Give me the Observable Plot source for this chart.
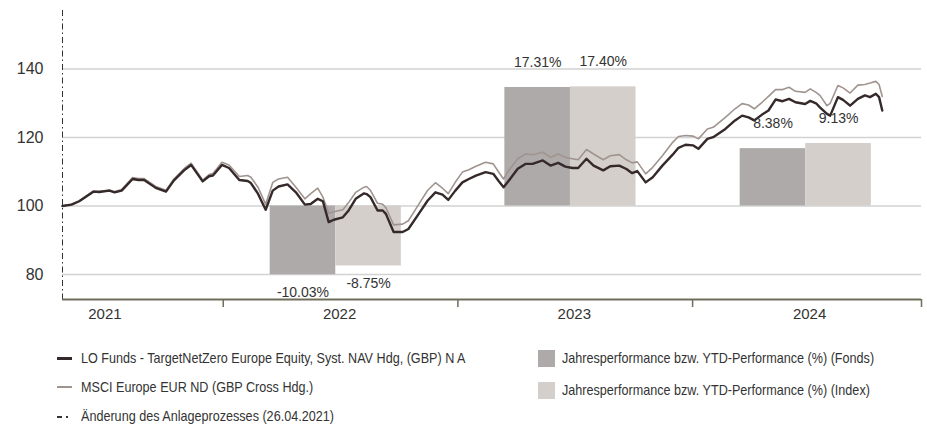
<!DOCTYPE html>
<html>
<head>
<meta charset="utf-8">
<script src="https://cdn.jsdelivr.net/npm/d3@7"></script>
<script src="https://cdn.jsdelivr.net/npm/@observablehq/plot@0.6"></script>
<style>
  html, body { margin: 0; padding: 0; background: #fff; }
  #wrap { position: relative; width: 927px; height: 437px; overflow: hidden; }
  .leg { position: absolute; font-family: "Liberation Sans", Arial, sans-serif; font-size: 15px; color: #333; white-space: nowrap; line-height: 1; transform: scaleX(0.84); transform-origin: 0 50%; }
  .sw { position: absolute; }
</style>
</head>
<body>
<div id="wrap"><div id="chart"></div></div>
<script>
// ---- Data ----
const dates = [
"2021-04-26","2021-05-10","2021-05-22","2021-06-13","2021-06-22","2021-07-08","2021-07-16","2021-07-27",
"2021-08-13","2021-08-22","2021-08-31","2021-09-18","2021-10-04","2021-10-16","2021-11-01","2021-11-12",
"2021-11-30","2021-12-10","2021-12-16","2021-12-30","2022-01-10","2022-01-26","2022-02-08","2022-02-13",
"2022-02-24","2022-03-08","2022-03-19","2022-03-28","2022-04-11","2022-04-24","2022-05-08","2022-05-17",
"2022-05-28","2022-06-05","2022-06-14","2022-06-22","2022-07-06","2022-07-15","2022-07-26","2022-08-08",
"2022-08-12","2022-08-18","2022-08-29","2022-09-06","2022-09-11","2022-09-23","2022-10-07","2022-10-16",
"2022-11-01","2022-11-15","2022-11-27","2022-12-08","2022-12-17","2022-12-28","2023-01-08","2023-01-18",
"2023-01-29","2023-02-13","2023-02-25","2023-03-05","2023-03-13","2023-03-21","2023-04-04","2023-04-16",
"2023-04-27","2023-05-13","2023-05-25","2023-06-06","2023-06-17","2023-06-28","2023-07-07","2023-07-20",
"2023-07-31","2023-08-15","2023-08-26","2023-09-09","2023-09-20","2023-09-29","2023-10-07","2023-10-20",
"2023-10-31","2023-11-15","2023-12-01","2023-12-10","2023-12-21","2024-01-02","2024-01-10","2024-01-24",
"2024-02-02","2024-02-21","2024-03-07","2024-03-18","2024-03-28","2024-04-06","2024-04-18","2024-04-28",
"2024-05-09","2024-05-20","2024-05-30","2024-06-09","2024-06-24","2024-07-02","2024-07-11","2024-07-17",
"2024-07-28","2024-08-02","2024-08-14","2024-08-22","2024-09-02","2024-09-14","2024-09-25","2024-10-03",
"2024-10-12","2024-10-17","2024-10-22"];

const fund = [
100.0,100.4,101.4,104.2,104.1,104.5,104.0,104.5,
107.9,107.6,107.6,105.3,104.2,107.4,110.4,112.0,
107.2,108.7,108.9,112.0,111.1,107.6,107.3,106.7,
103.6,98.9,104.5,105.7,106.3,104.0,100.4,100.6,
102.1,101.4,95.3,96.0,96.7,98.7,102.1,103.7,
103.5,102.6,98.7,98.7,97.7,92.4,92.4,93.3,
97.7,101.6,104.0,103.3,101.8,104.5,106.9,107.9,
108.9,109.9,109.4,107.4,105.5,107.4,110.9,112.3,
112.3,113.3,111.8,112.6,111.5,111.1,111.1,113.8,
111.8,110.4,111.6,111.8,110.8,109.6,110.2,106.9,
108.4,111.8,115.0,117.0,117.9,117.7,116.7,119.6,
120.1,122.5,125.0,126.4,125.9,125.0,126.7,127.9,
131.1,130.6,131.3,130.3,129.8,130.7,130.0,128.8,
126.9,126.4,131.8,131.0,129.3,131.3,132.3,131.8,
132.8,131.8,127.9];

const index = [
100.0,100.5,101.5,104.4,104.3,104.7,104.2,104.8,
108.3,108.0,108.0,105.7,104.6,107.8,110.9,112.5,
107.6,109.2,109.5,112.8,112.0,108.6,108.9,108.4,
105.5,100.5,106.9,107.9,108.4,105.5,102.1,103.6,
105.2,102.6,97.9,98.3,98.9,101.0,104.0,105.5,
105.7,104.6,100.8,100.5,99.5,94.5,94.7,95.7,
100.5,104.6,106.8,105.2,103.6,107.0,109.9,110.6,
111.6,112.8,112.3,110.0,107.9,110.4,113.8,115.2,
115.0,115.7,114.2,115.2,114.2,113.8,113.5,116.5,
115.2,113.5,114.7,115.0,113.5,112.6,112.9,109.4,
111.3,114.7,118.6,120.3,120.6,120.4,119.6,122.5,
123.0,125.9,128.4,129.9,129.5,128.4,130.3,132.0,
134.0,134.0,134.7,133.5,133.2,134.2,133.2,132.3,
129.3,130.0,135.2,134.5,133.0,135.3,135.5,135.9,
136.4,135.5,132.0];

const barYears = [2022, 2023, 2024];
const fundPerf = [-10.03, 17.31, 8.38];
const indexPerf = [-8.75, 17.40, 9.13];

const yTicks = [80, 100, 120, 140];
const axisYears = [2021, 2022, 2023, 2024];
const processChange = "2021-04-26";

const fundName = "LO Funds - TargetNetZero Europe Equity, Syst. NAV Hdg, (GBP) N A";
const indexName = "MSCI Europe EUR ND (GBP Cross Hdg.)";
const barFundName = "Jahresperformance bzw. YTD-Performance (%) (Fonds)";
const barIndexName = "Jahresperformance bzw. YTD-Performance (%) (Index)";
const changeName = "Änderung des Anlageprozesses (26.04.2021)";

// ---- Styles ----
const C_FUND = "#35292a", C_INDEX = "#a0948f";
const C_BARF = "#aeaaa9", C_BARI = "#d4cfcb";
const C_GRID = "#d2d2d2", C_AXIS = "#6e6e5a", C_TEXT = "#333333";

const parse = d3.utcParse("%Y-%m-%d");
const series = dates.map((d, i) => ({date: parse(d), fund: fund[i], index: index[i]}));

const xDomain = [parse("2021-04-26"), parse("2024-12-22")];
const yDomain = [72.7, 157.1];
const BAR_SCALE = 2;      // 1 % = 2 index points
const HALF = 102;          // bar width in days

const bars = [];
barYears.forEach((y, i) => {
  const c = Date.UTC(y, 5, 25);
  bars.push({kind: "f", pct: fundPerf[i], x1: new Date(c - HALF * 864e5), x2: new Date(c)});
  bars.push({kind: "i", pct: indexPerf[i], x1: new Date(c), x2: new Date(c + HALF * 864e5)});
});
bars.forEach(b => { b.xm = new Date((+b.x1 + +b.x2) / 2); b.top = 100 + BAR_SCALE * b.pct; });

const chart = Plot.plot({
  width: 927,
  height: 330,
  marginLeft: 62,
  marginRight: 6,
  marginTop: 10,
  marginBottom: 31,
  style: {fontFamily: "'Liberation Sans', Arial, sans-serif", fontSize: "15px", color: C_TEXT, background: "#fff"},
  x: {type: "utc", domain: xDomain},
  y: {domain: yDomain},
  marks: [
    Plot.ruleY(yTicks, {stroke: C_GRID, strokeWidth: 1.5}),
    Plot.rectY(bars, {x1: "x1", x2: "x2", y1: 100, y2: "top", fill: d => d.kind === "f" ? C_BARF : C_BARI}),
    Plot.line(series, {x: "date", y: "index", stroke: C_INDEX, strokeWidth: 1.6}),
    Plot.line(series, {x: "date", y: "fund", stroke: C_FUND, strokeWidth: 2.4}),
    Plot.text(bars, {x: "xm", y: "top", text: d => d.pct.toFixed(2) + "%",
      fill: C_TEXT, fontSize: 14, lineAnchor: "middle",
      filter: d => d.pct >= 0, dy: -25}),
    Plot.text(bars, {x: "xm", y: "top", text: d => d.pct.toFixed(2) + "%",
      fill: C_TEXT, fontSize: 14, lineAnchor: "middle",
      filter: d => d.pct < 0, dy: 18}),
    Plot.ruleX([parse(processChange)], {stroke: "#333", strokeWidth: 1, strokeDasharray: "6,3,1.5,3"}),
    Plot.ruleY([yDomain[0]], {stroke: C_AXIS, strokeWidth: 2}),
    Plot.axisY({ticks: yTicks, tickSize: 0, tickPadding: 19, fontSize: 16, fill: C_TEXT, label: null}),
    Plot.axisX({ticks: [...axisYears.slice(1).map(y => new Date(Date.UTC(y, 0, 1))), xDomain[1]],
      tickSize: 8, tickFormat: () => "", stroke: C_AXIS, strokeWidth: 1.5, label: null}),
    Plot.axisX({ticks: axisYears.map(y => new Date(Date.UTC(y, 6, 1))), tickSize: 0, tickPadding: 9,
      tickFormat: d3.utcFormat("%Y"), fontSize: 15, fill: C_TEXT, label: null})
  ]
});
document.getElementById("chart").appendChild(chart);

// ---- Legend (HTML, below the SVG) ----
const wrap = document.getElementById("wrap");
function add(html) { wrap.insertAdjacentHTML("beforeend", html); }
function legText(x, yc, t) { add(`<div class="leg" style="left:${x}px;top:${yc - 8}px">${t}</div>`); }
add(`<div class="sw" style="left:57px;top:357px;width:15px;height:3px;background:${C_FUND}"></div>`);
legText(80.5, 358, fundName);
add(`<div class="sw" style="left:57px;top:386px;width:15px;height:2px;background:${C_INDEX}"></div>`);
legText(80.5, 387, indexName);
add(`<div class="sw" style="left:57px;top:416px;width:5px;height:1.5px;background:#333"></div>`);
add(`<div class="sw" style="left:66px;top:416px;width:1.5px;height:1.5px;background:#333"></div>`);
legText(80.5, 416, changeName);
add(`<div class="sw" style="left:538px;top:350px;width:17px;height:17px;background:${C_BARF}"></div>`);
legText(562, 358, barFundName);
add(`<div class="sw" style="left:538px;top:382px;width:17px;height:17px;background:${C_BARI}"></div>`);
legText(562, 390, barIndexName);
</script>
</body>
</html>
